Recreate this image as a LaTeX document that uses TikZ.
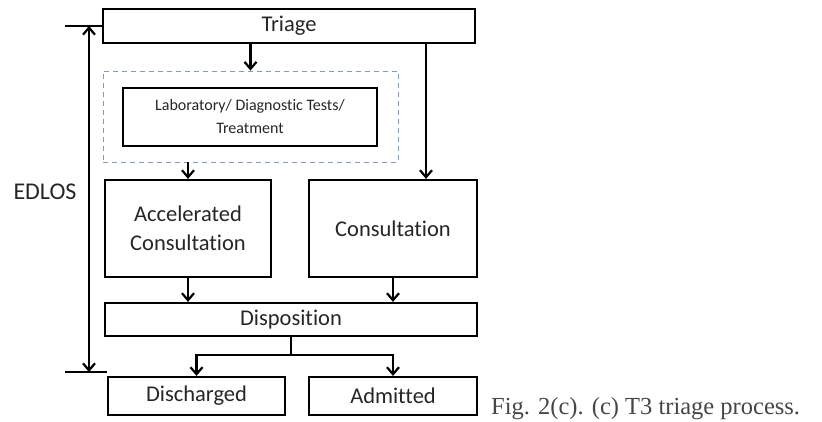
\documentclass[tikz,border=0pt]{standalone}
\usepackage{fontspec}
\setmainfont{Carlito}[Ligatures=NoCommon]
\newfontfamily\capfont{Liberation Serif}
\usetikzlibrary{arrows.meta,positioning,calc}
\definecolor{dashblue}{RGB}{135,155,182}
\definecolor{captext}{RGB}{70,70,70}

\begin{document}
\begin{tikzpicture}[x=1pt, y=-1pt,
  box/.style={draw, line width=2.2pt, text=black!85, font=\fontsize{22.5}{29}\selectfont, align=center, inner sep=0pt},
  arrow/.style={-{Straight Barb[length=7pt,width=12pt]}, line width=2.2pt},
  dblarrow/.style={{Straight Barb[length=7pt,width=12pt]}-{Straight Barb[length=7pt,width=12pt]}, line width=2.2pt}]
\useasboundingbox (0,0) rectangle (822,422);
\node[box, minimum width=372pt, minimum height=34pt] (triage) at (289,26) {Triage};
\node[draw=dashblue, dash pattern=on 5pt off 4pt, line width=0.9pt, minimum width=295pt, minimum height=91pt] (testgrp) at (250.5,116.5) {};
\node[box, font=\fontsize{16}{23}\selectfont, minimum width=254pt, minimum height=58pt] (lab) at (250,117) {Laboratory/ Diagnostic Tests/\\Treatment};
\node[box, minimum width=166pt, minimum height=97pt] (accel) at (188,228.5) {Accelerated\\Consultation};
\node[box, minimum width=168pt, minimum height=97pt] (consult) at (393,228.5) {Consultation};
\node[box, minimum width=372pt, minimum height=33pt] (dispo) at (291,319.5) {Disposition};
\node[box, minimum width=177pt, minimum height=38pt] (disch) at (196.5,396) {Discharged};
\node[box, minimum width=168pt, minimum height=38pt] (admit) at (393,396) {Admitted};
\node[text=black!85, font=\fontsize{24}{26}\selectfont] (edlos) at (45,192) {EDLOS};
\node[anchor=base west, text=captext, font=\capfont\fontsize{24.5}{26}\selectfont, inner sep=0pt] (caption) at (491,414) {Fig. 2(c). (c) T3 triage process.};
\coordinate (tr) at ([xshift=137pt]triage.south);
\coordinate (split) at ($(dispo.south)+(0,18)$);
\coordinate (toptick) at (65,26);
\coordinate (bottick) at (65,372);
\coordinate (botend) at (107,372);
\coordinate (lostop) at (89,26);
\coordinate (losbot) at (89,372);
\draw[arrow] (testgrp.north |- triage.south) -- (testgrp.north);
\draw[arrow] (accel.north |- testgrp.south) -- (accel.north);
\draw[arrow] (tr) -- (tr |- consult.north);
\draw[arrow] (accel.south) -- (accel.south |- dispo.north);
\draw[arrow] (consult.south) -- (consult.south |- dispo.north);
\draw[line width=2.2pt] (dispo.south) -- (split);
\draw[arrow] (split) -| (disch.north);
\draw[arrow] (split) -| (admit.north);
\draw[line width=2.2pt] (toptick) -- (triage.west);
\draw[line width=2.2pt] (bottick) -- (botend);
\draw[dblarrow] (lostop) -- (losbot);
\end{tikzpicture}
\end{document}
